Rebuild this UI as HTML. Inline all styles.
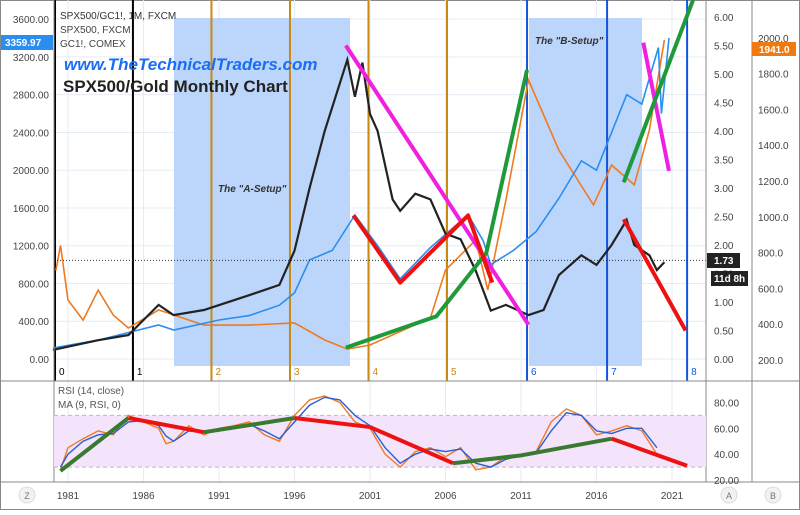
<!DOCTYPE html>
<html><head><meta charset="utf-8"><style>
body{margin:0;background:#fff;font-family:"Liberation Sans",sans-serif}
svg text{font-family:"Liberation Sans",sans-serif}
</style></head><body>
<svg id="c" width="800" height="510" viewBox="0 0 800 510" xmlns="http://www.w3.org/2000/svg"></svg>
<script>
// ---- data ----
const spxYears=[1980,1983,1987,1988,1991,1993,1995,1996,1997,1998.5,2000,2001.5,2003,2005,2007.5,2008.5,2009,2010.5,2012,2013.5,2015,2016,2018,2019,2020.1,2020.3,2020.8];
const spxVals=[117,200,360,307,413,460,570,700,1050,1150,1525,1200,850,1180,1530,1250,1000,1150,1350,1700,2100,2000,2800,2700,3300,2600,3400];
const goldYears=[1980.2,1980.5,1981,1982,1983,1984,1985,1987,1990,1993,1996,1998,1999.5,2001,2005,2006,2008,2008.8,2010,2011.5,2013.5,2015.8,2017,2018.5,2019.5,2020.5];
const goldVals=[700,840,535,423,590,451,379,480,395,395,407,312,261,284,435,703,870,591,1094,1764,1373,1066,1289,1178,1485,1988];
const ratioYears=[1980,1983,1985,1987,1988,1990,1993,1995,1996,1997,1998,1999.5,2000,2000.5,2001,2001.5,2002.5,2003,2004,2005,2006,2007,2008,2009,2010,2011.5,2012.5,2013.5,2015,2016,2017,2018,2018.5,2019.5,2020,2020.5];
const ratioVals=[0.16,0.33,0.42,0.95,0.77,0.86,1.12,1.3,1.9,3.0,4.0,5.25,4.6,5.2,4.3,4.0,2.8,2.6,2.9,2.8,2.2,2.1,1.55,0.85,0.95,0.77,0.86,1.47,1.82,1.65,2.0,2.44,2.0,1.82,1.56,1.7];
const rsiYears=[1980.5,1981,1982,1983,1984,1985,1986,1987,1987.5,1988,1989,1990,1991,1992,1993,1994,1995,1996,1997,1998,1999,2000,2001,2002,2003,2004,2005,2006,2007,2008,2009,2010,2011,2012,2013,2014,2015,2016,2017,2018,2019,2020];
const rsiVals=[28,45,52,58,55,70,65,60,48,50,62,55,60,62,65,55,50,70,82,85,80,65,60,40,30,42,45,38,45,28,30,38,40,42,65,75,70,55,58,62,58,40];
const maVals=[30,40,50,55,56,65,66,62,54,50,58,57,58,60,63,58,52,65,78,84,82,70,62,45,33,40,44,42,44,33,30,36,39,41,58,72,70,58,56,60,60,45];
const spxTicks=[0,400,800,1200,1600,2000,2400,2800,3200,3600];
const ratioTicks=[0,0.5,1,1.5,2,2.5,3,3.5,4,4.5,5,5.5,6];
const goldTicks=[200,400,600,800,1000,1200,1400,1600,1800,2000];
const rsiTicks=[20,40,60,80];
const yearTicks=[1981,1986,1991,1996,2001,2006,2011,2016,2021];
const cycleYears=[1980.14,1985.3,1990.5,1995.7,2000.9,2006.1,2011.4,2016.7,2022.0];
const cycleColors=["#000","#000","#c88a10","#c88a10","#c88a10","#c88a10","#1155dd","#1155dd","#1155dd"];
const trendMagenta1=[[1999.4,5.5],[2011.5,0.6]];
const trendMagenta2=[[2019.1,5.55],[2020.8,3.3]];
const trendRed1=[[1999.9,2.52],[2003.0,1.34],[2007.5,2.52],[2009.1,1.34]];
const trendRed2=[[2017.8,2.45],[2021.9,0.5]];
const trendGreen1=[[1999.4,0.2],[2005.4,0.75],[2008.7,1.86],[2011.4,5.07]];
const trendGreen2=[[2017.8,3.1],[2022.4,6.3]];
const rsiTrendG=[[[1980.5,27],[1985,68]],[[1990,57],[1996,68]],[[2006.5,33],[2011,39],[2017,52]]];
const rsiTrendR=[[[1985,68],[1990,57]],[[1996,68],[2001,61],[2006.5,33]],[[2017,52],[2022,31]]];

// ---- scales ----
const X=y=>68+(y-1981)*15.1;
const YS=v=>359-v*0.0944;
const YR=v=>359-v*57;
const YG=v=>360-(v-200)*0.179;
const YRSI=v=>480-(v-20)*1.292;
const svg=document.getElementById('c');
const NS="http://www.w3.org/2000/svg";
function el(t,a,p){const e=document.createElementNS(NS,t);for(const k in a)e.setAttribute(k,a[k]);(p||svg).appendChild(e);return e;}
function txt(x,y,s,a){const e=el('text',Object.assign({x:x,y:y},a||{}));e.textContent=s;return e;}
function pts(xs,ys,fy){return xs.map((v,i)=>X(v).toFixed(1)+","+fy(ys[i]).toFixed(1)).join(" ");}

let e=el('rect',{x:0.5,y:0.5,width:799,height:509,fill:"#fff",stroke:"#888"});

spxTicks.forEach(t=>{const g=el('line',{x1:54,x2:706,y1:YS(t),y2:YS(t),stroke:"#e6ecf5"});});
yearTicks.forEach(t=>{const g=el('line',{x1:X(t),x2:X(t),y1:0,y2:482,stroke:"#e6ecf5"});});
e=el('rect',{x:174,y:18,width:176,height:348,fill:"#bcd5fa"});
e=el('rect',{x:529,y:18,width:113,height:348,fill:"#bcd5fa"});
cycleYears.forEach((c,i)=>{const l=el('line',{x1:X(c),x2:X(c),y1:0,y2:381,stroke:cycleColors[i],"stroke-width":2});
const t=txt(X(c)+4,375,String(i),{"font-size":10,fill:cycleColors[i]});});
e=el('polyline',{points:pts(goldYears,goldVals,YG),fill:"none",stroke:"#f07a20","stroke-width":1.6});
e=el('polyline',{points:pts(spxYears,spxVals,YS),fill:"none",stroke:"#2a8ef0","stroke-width":1.6});
e=el('polyline',{points:pts(ratioYears,ratioVals,YR),fill:"none",stroke:"#222","stroke-width":2.2});
e=el('line',{x1:54,x2:706,y1:YR(1.73),y2:YR(1.73),stroke:"#333","stroke-dasharray":"1,2"});
function tl(arr,col,name){const l=el('polyline',{points:arr.map(p=>X(p[0]).toFixed(1)+","+YR(p[1]).toFixed(1)).join(" "),fill:"none",stroke:col,"stroke-width":4,"stroke-linejoin":"round"});}
tl(trendMagenta1,"#f020e0","trend-magenta-1");tl(trendMagenta2,"#f020e0","trend-magenta-2");
tl(trendGreen1,"#1f9a3a","trend-green-1");tl(trendGreen2,"#1f9a3a","trend-green-2");
tl(trendRed1,"#ee1111","trend-red-1");tl(trendRed2,"#ee1111","trend-red-2");
el('line',{x1:54,x2:54,y1:0,y2:482,stroke:"#888"});
el('line',{x1:706,x2:706,y1:0,y2:482,stroke:"#888"});
el('line',{x1:752,x2:752,y1:0,y2:482,stroke:"#888"});
el('line',{x1:0,x2:800,y1:381,y2:381,stroke:"#888"});
el('line',{x1:0,x2:800,y1:482,y2:482,stroke:"#888"});
spxTicks.forEach(t=>{const a=txt(49,YS(t)+4,t.toFixed(2),{"font-size":10,fill:"#444","text-anchor":"end"});});
ratioTicks.forEach(t=>{const a=txt(714,YR(t)+4,t.toFixed(2),{"font-size":10,fill:"#444"});});
goldTicks.forEach(t=>{const a=txt(758,YG(t)+4,t.toFixed(1),{"font-size":10,fill:"#444"});});
e=el('rect',{x:1,y:35,width:52,height:15,fill:"#2a8ef0"});
txt(5,46,"3359.97",{"font-size":10,fill:"#fff","font-weight":"bold"});
e=el('rect',{x:752,y:42,width:44,height:14,fill:"#f07a10"});
txt(759,53,"1941.0",{"font-size":10,fill:"#fff","font-weight":"bold"});
e=el('rect',{x:707,y:253,width:33,height:15,fill:"#222"});
txt(714,264,"1.73",{"font-size":10,fill:"#fff","font-weight":"bold"});
e=el('rect',{x:711,y:271,width:37,height:15,fill:"#222"});
txt(714,282,"11d 8h",{"font-size":10,fill:"#fff","font-weight":"bold"});
e=txt(60,19,"SPX500/GC1!, 1M, FXCM",{"font-size":10,fill:"#333"});
e=txt(60,33,"SPX500, FXCM",{"font-size":10,fill:"#444"});
e=txt(60,47,"GC1!, COMEX",{"font-size":10,fill:"#444"});
e=txt(64,70,"www.TheTechnicalTraders.com",{"font-size":17,fill:"#1a6ef5","font-weight":"bold","font-style":"italic"});
e=txt(63,92,"SPX500/Gold Monthly Chart",{"font-size":17,fill:"#222","font-weight":"bold"});
e=txt(218,192,"The \"A-Setup\"",{"font-size":10,fill:"#333","font-weight":"bold","font-style":"italic"});
e=txt(535,44,"The \"B-Setup\"",{"font-size":10,fill:"#333","font-weight":"bold","font-style":"italic"});
e=el('rect',{x:54,y:YRSI(70),width:652,height:YRSI(30)-YRSI(70),fill:"#f3e3fb"});
[30,70].forEach(v=>el('line',{x1:54,x2:706,y1:YRSI(v),y2:YRSI(v),stroke:"#bbb","stroke-dasharray":"4,3"}));
rsiTicks.forEach(t=>{const a=txt(714,YRSI(t)+4,t.toFixed(2),{"font-size":10,fill:"#444"});});
e=el('polyline',{points:pts(rsiYears,rsiVals,YRSI),fill:"none",stroke:"#f07a20","stroke-width":1.4});
e=el('polyline',{points:pts(rsiYears,maVals,YRSI),fill:"none",stroke:"#2a5fd0","stroke-width":1.4});
rsiTrendG.forEach((s,i)=>{const l=el('polyline',{points:s.map(p=>X(p[0])+","+YRSI(p[1])).join(" "),fill:"none",stroke:"#3a7a30","stroke-width":4});});
rsiTrendR.forEach((s,i)=>{const l=el('polyline',{points:s.map(p=>X(p[0])+","+YRSI(p[1])).join(" "),fill:"none",stroke:"#ee1111","stroke-width":4});});
e=txt(58,394,"RSI (14, close)",{"font-size":10,fill:"#555"});
e=txt(58,408,"MA (9, RSI, 0)",{"font-size":10,fill:"#555"});
yearTicks.forEach(t=>{const a=txt(X(t),499,String(t),{"font-size":10,fill:"#444","text-anchor":"middle"});});
[[27,"Z"],[729,"A"],[773,"B"]].forEach(b=>{const c=el('circle',{cx:b[0],cy:495,r:8,fill:"#f2f2f2",stroke:"#ddd"});txt(b[0],499,b[1],{"font-size":9,fill:"#777","text-anchor":"middle"});});
</script>
</body></html>
